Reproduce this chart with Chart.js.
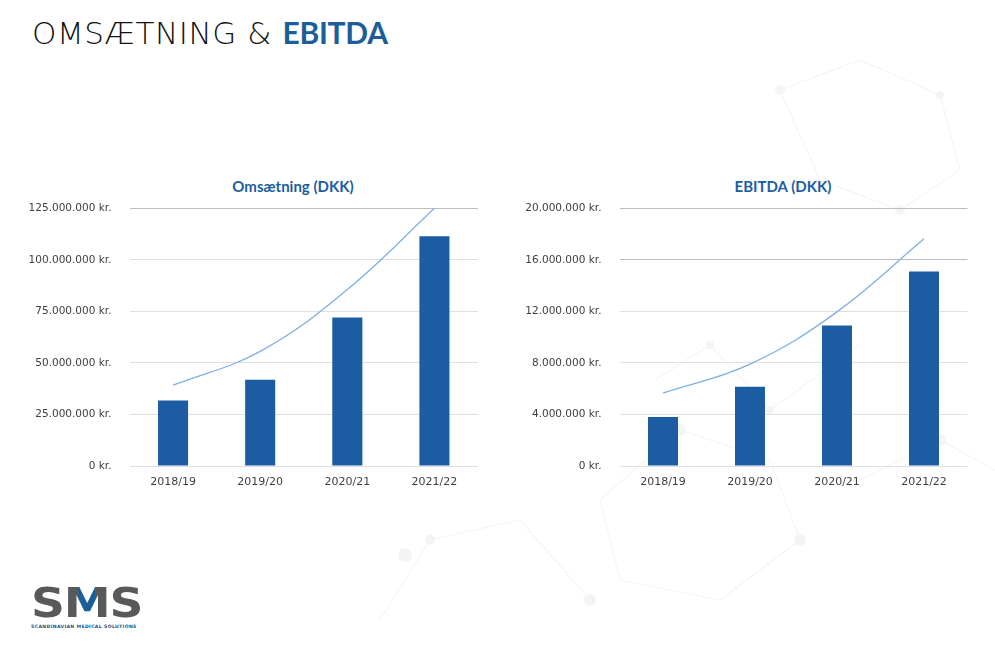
<!DOCTYPE html>
<html>
<head>
    <title>Omsætning &amp; EBITDA</title>
    <script src="https://cdn.jsdelivr.net/npm/chart.js"></script>
    <style>
        body {
            margin: 0;
            width: 995px;
            height: 653px;
            background: #fff;
            position: relative;
            overflow: hidden;
            font-family: "DejaVu Sans", sans-serif;
        }

        #bg {
            position: absolute;
            left: 0;
            top: 0;
        }

        h1 {
            position: absolute;
            left: 32px;
            top: 14px;
            margin: 0;
            font-size: 31px;
            font-weight: 300;
            color: #111;
            letter-spacing: 0.6px;
            white-space: nowrap;
        }

        h1 b {
            font-family: Lato, sans-serif;
            font-size: 30px;
            color: #1b5e98;
            font-weight: bold;
            letter-spacing: -0.3px;
        }

        .chart-title {
            position: absolute;
            top: 177px;
            width: 300px;
            margin-left: -150px;
            text-align: center;
            font-family: Lato, sans-serif;
            font-size: 15px;
            font-weight: bold;
            color: #1b5ea0;
        }

        .chart-box {
            position: absolute;
            top: 184px;
            height: 316px;
        }

        #logo {
            position: absolute;
            left: 31px;
            top: 582px;
            width: 108px;
        }

        #logo .big {
            font-size: 41px;
            font-weight: bold;
            color: #58595b;
            letter-spacing: -1px;
            line-height: 42px;
            transform: scaleX(1.15);
            transform-origin: left center;
        }

        #logo .big span {
            background: linear-gradient(90deg, #58595b 0 32%, #1b5e98 32% 68%, #58595b 68%);
            -webkit-background-clip: text;
            background-clip: text;
            color: transparent;
        }

        #logo .small {
            font-size: 4.6px;
            font-weight: bold;
            color: #1b4f80;
            letter-spacing: 0.35px;
            white-space: nowrap;
        }
    </style>
</head>
<body>
<svg id="bg" width="995" height="653">
    <g stroke="#f5f5f5" stroke-width="1.2" fill="none">
        <polyline points="780,90 860,60 940,95 960,170 900,210 820,180 780,90"/>
        <polyline points="600,500 680,430 770,460 800,540 720,600 620,580 600,500"/>
        <polyline points="380,620 430,540 520,520 590,600"/>
        <polyline points="655,380 710,345 770,410 860,345"/>
        <polyline points="860,480 940,440 995,470"/>
    </g>
    <g fill="#f4f4f4">
        <circle cx="780" cy="90" r="5"/>
        <circle cx="940" cy="95" r="4"/>
        <circle cx="900" cy="210" r="5"/>
        <circle cx="680" cy="430" r="6"/>
        <circle cx="800" cy="540" r="6"/>
        <circle cx="430" cy="540" r="5"/>
        <circle cx="590" cy="600" r="6"/>
        <circle cx="710" cy="345" r="4"/>
        <circle cx="770" cy="410" r="4"/>
        <circle cx="940" cy="440" r="6"/>
        <circle cx="405" cy="555" r="7"/>
    </g>
</svg>

<h1>OMSÆTNING &amp; <b>EBITDA</b></h1>

<div class="chart-title" style="left:293px">Omsætning (DKK)</div>
<div class="chart-title" style="left:783px">EBITDA (DKK)</div>

<div class="chart-box" style="left:0; width:490px"><canvas id="revenueChart"></canvas></div>
<div class="chart-box" style="left:490px; width:505px"><canvas id="ebitdaChart"></canvas></div>

<div id="logo">
    <div class="big">S<span>M</span>S</div>
    <div class="small">SCANDINAVIAN MEDICAL SOLUTIONS</div>
</div>

<script>
    // values
    const seasons = ["2018/19", "2019/20", "2020/21", "2021/22"];
    const revenue = [31800000, 41800000, 72000000, 111400000];
    const revenueTrend = [39200000, 55600000, 85600000, 125000000];
    const ebitda = [3810000, 6150000, 10900000, 15100000];
    const ebitdaTrend = [5660000, 7910000, 11960000, 17640000];

    const barColor = "#1c5ca3";
    const trendColor = "#7eb1e2";

    function krLabel(value) {
        return Math.round(value).toString().replace(/\B(?=(\d{3})+(?!\d))/g, ".") + " kr.";
    }

    function makeChart(id, bars, trend, max, step, darkLines, rightPad) {
        new Chart(document.getElementById(id), {
            data: {
                labels: seasons,
                datasets: [{
                    type: "line",
                    data: trend,
                    borderColor: trendColor,
                    borderWidth: 1.3,
                    pointRadius: 0,
                    tension: 0.4,
                    fill: false
                }, {
                    type: "bar",
                    data: bars,
                    backgroundColor: barColor,
                    barPercentage: 0.345,
                    categoryPercentage: 1
                }]
            },
            options: {
                responsive: true,
                maintainAspectRatio: false,
                animation: false,
                layout: {
                    padding: { top: 9, right: rightPad, bottom: 0, left: 0 }
                },
                plugins: {
                    legend: { display: false },
                    tooltip: { enabled: false }
                },
                scales: {
                    x: {
                        grid: { display: false, drawTicks: false },
                        border: { display: false },
                        ticks: {
                            color: "#404040",
                            font: { family: "DejaVu Sans", size: 11 },
                            padding: 10
                        },
                        afterFit: (scale) => { scale.height = 34; }
                    },
                    y: {
                        min: 0,
                        max: max,
                        border: { display: false },
                        grid: {
                            drawTicks: false,
                            lineWidth: 1,
                            color: (ctx) => darkLines.includes(ctx.tick && ctx.tick.value) ? "#bdbdbd" : "#e0e0e0"
                        },
                        ticks: {
                            stepSize: step,
                            color: "#404040",
                            font: { family: "DejaVu Sans", size: 10.5 },
                            padding: 18,
                            callback: (v) => krLabel(v)
                        },
                        afterFit: (scale) => { scale.width = 129.5; }
                    }
                }
            }
        });
    }

    makeChart("revenueChart", revenue, revenueTrend, 125000000, 25000000, [125000000], 12);
    makeChart("ebitdaChart", ebitda, ebitdaTrend, 20000000, 4000000, [20000000, 16000000], 27.5);
</script>
</body>
</html>
